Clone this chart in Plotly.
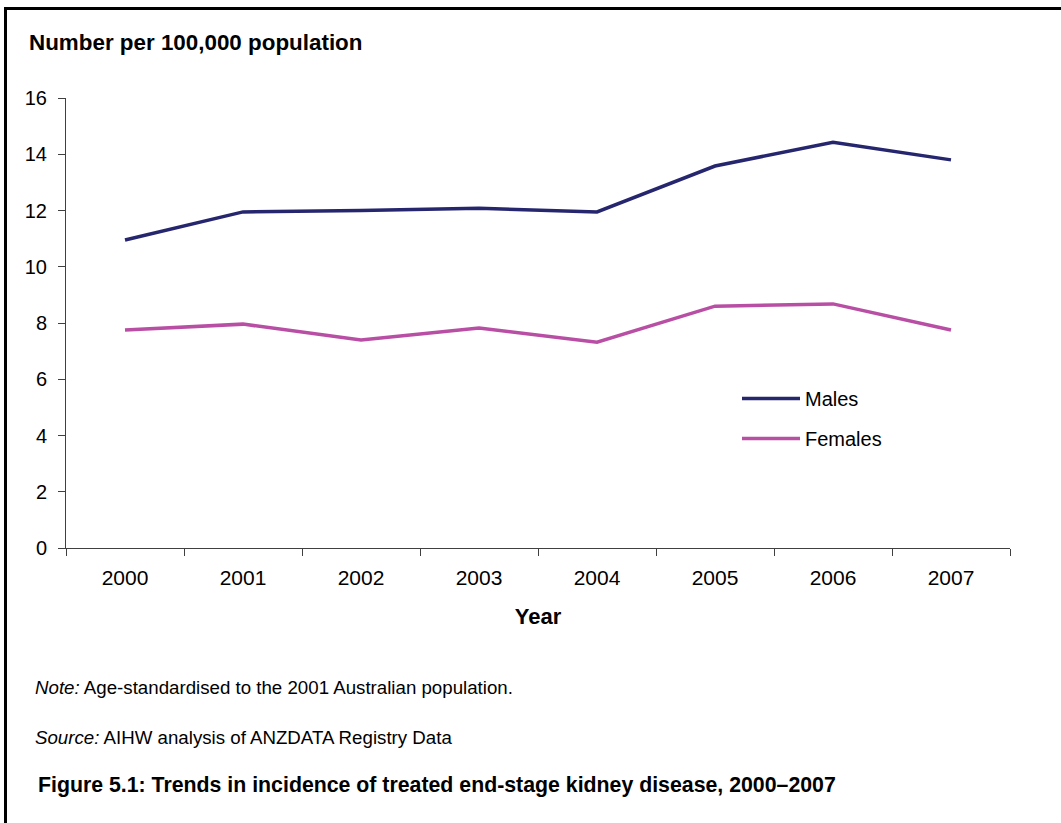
import plotly.graph_objects as go

years = ["2000", "2001", "2002", "2003", "2004", "2005", "2006", "2007"]
males = [10.95, 11.95, 12.0, 12.08, 11.95, 13.58, 14.43, 13.8]
females = [7.75, 7.96, 7.4, 7.82, 7.32, 8.6, 8.68, 7.75]
y_ticks = [0, 2, 4, 6, 8, 10, 12, 14, 16]

FONT = "Liberation Sans, Arial, sans-serif"
W, H = 1061, 823
L, R, T, B = 66, 51, 98, 275
PW, PH = W - L - R, H - T - B

def px_x(x):
    return (x - L) / PW

def px_y(y):
    return 1 - (y - T) / PH

fig = go.Figure()
fig.add_trace(go.Scatter(x=years, y=males, mode="lines", name="Males",
                         line=dict(color="#25266e", width=3.5), legendgroup="m"))
fig.add_trace(go.Scatter(x=years, y=females, mode="lines", name="Females",
                         line=dict(color="#b84fa4", width=3.5), legendgroup="f"))

fig.update_layout(
    width=W, height=H,
    margin=dict(l=L, r=R, t=T, b=B, pad=0),
    paper_bgcolor="white", plot_bgcolor="white",
    font=dict(family=FONT, size=20, color="black"),
    showlegend=True,
    legend=dict(x=px_x(737), y=px_y(379), xanchor="left", yanchor="top",
                bgcolor="rgba(0,0,0,0)", font=dict(size=20, family=FONT),
                tracegroupgap=11, itemwidth=58),
    xaxis=dict(type="category", range=[-0.5, 7.5], showline=True, linecolor="#404040",
               linewidth=1, ticks="outside", tickson="boundaries", ticklen=7,
               tickcolor="#404040", showgrid=False, zeroline=False,
               tickfont=dict(size=21, family=FONT), ticklabelstandoff=11,
               title=dict(text="<b>Year</b>", font=dict(size=22, family=FONT), standoff=20)),
    yaxis=dict(range=[0, 16], tickvals=y_ticks, showline=True, linecolor="#404040",
               linewidth=1, ticks="outside", ticklen=7, tickcolor="#404040",
               showgrid=False, zeroline=False, tickfont=dict(size=20, family=FONT),
               ticklabelstandoff=7),
    annotations=[
        dict(text="<b>Number per 100,000 population</b>", xref="paper", yref="paper",
             x=px_x(27), y=px_y(43), xanchor="left", yanchor="middle", showarrow=False,
             font=dict(size=22.4, family=FONT)),
        dict(text="<i>Note:</i> Age-standardised to the 2001 Australian population.",
             xref="paper", yref="paper", x=px_x(33), y=px_y(687), xanchor="left",
             yanchor="middle", showarrow=False, font=dict(size=18.7, family=FONT)),
        dict(text="<i>Source:</i> AIHW analysis of ANZDATA Registry Data",
             xref="paper", yref="paper", x=px_x(33), y=px_y(737), xanchor="left",
             yanchor="middle", showarrow=False, font=dict(size=18.7, family=FONT)),
        dict(text="<b>Figure 5.1: Trends in incidence of treated end-stage kidney disease, 2000\u20132007</b>",
             xref="paper", yref="paper", x=px_x(36), y=px_y(785), xanchor="left",
             yanchor="middle", showarrow=False, font=dict(size=21.3, family=FONT)),
    ],
    shapes=[
        dict(type="line", xref="paper", yref="paper", x0=px_x(5.5), x1=px_x(5.5),
             y0=px_y(7), y1=px_y(830), line=dict(color="black", width=3)),
        dict(type="line", xref="paper", yref="paper", x0=px_x(4), x1=px_x(1070),
             y0=px_y(8.5), y1=px_y(8.5), line=dict(color="black", width=3)),
    ],
)

fig.write_html("out.html")
